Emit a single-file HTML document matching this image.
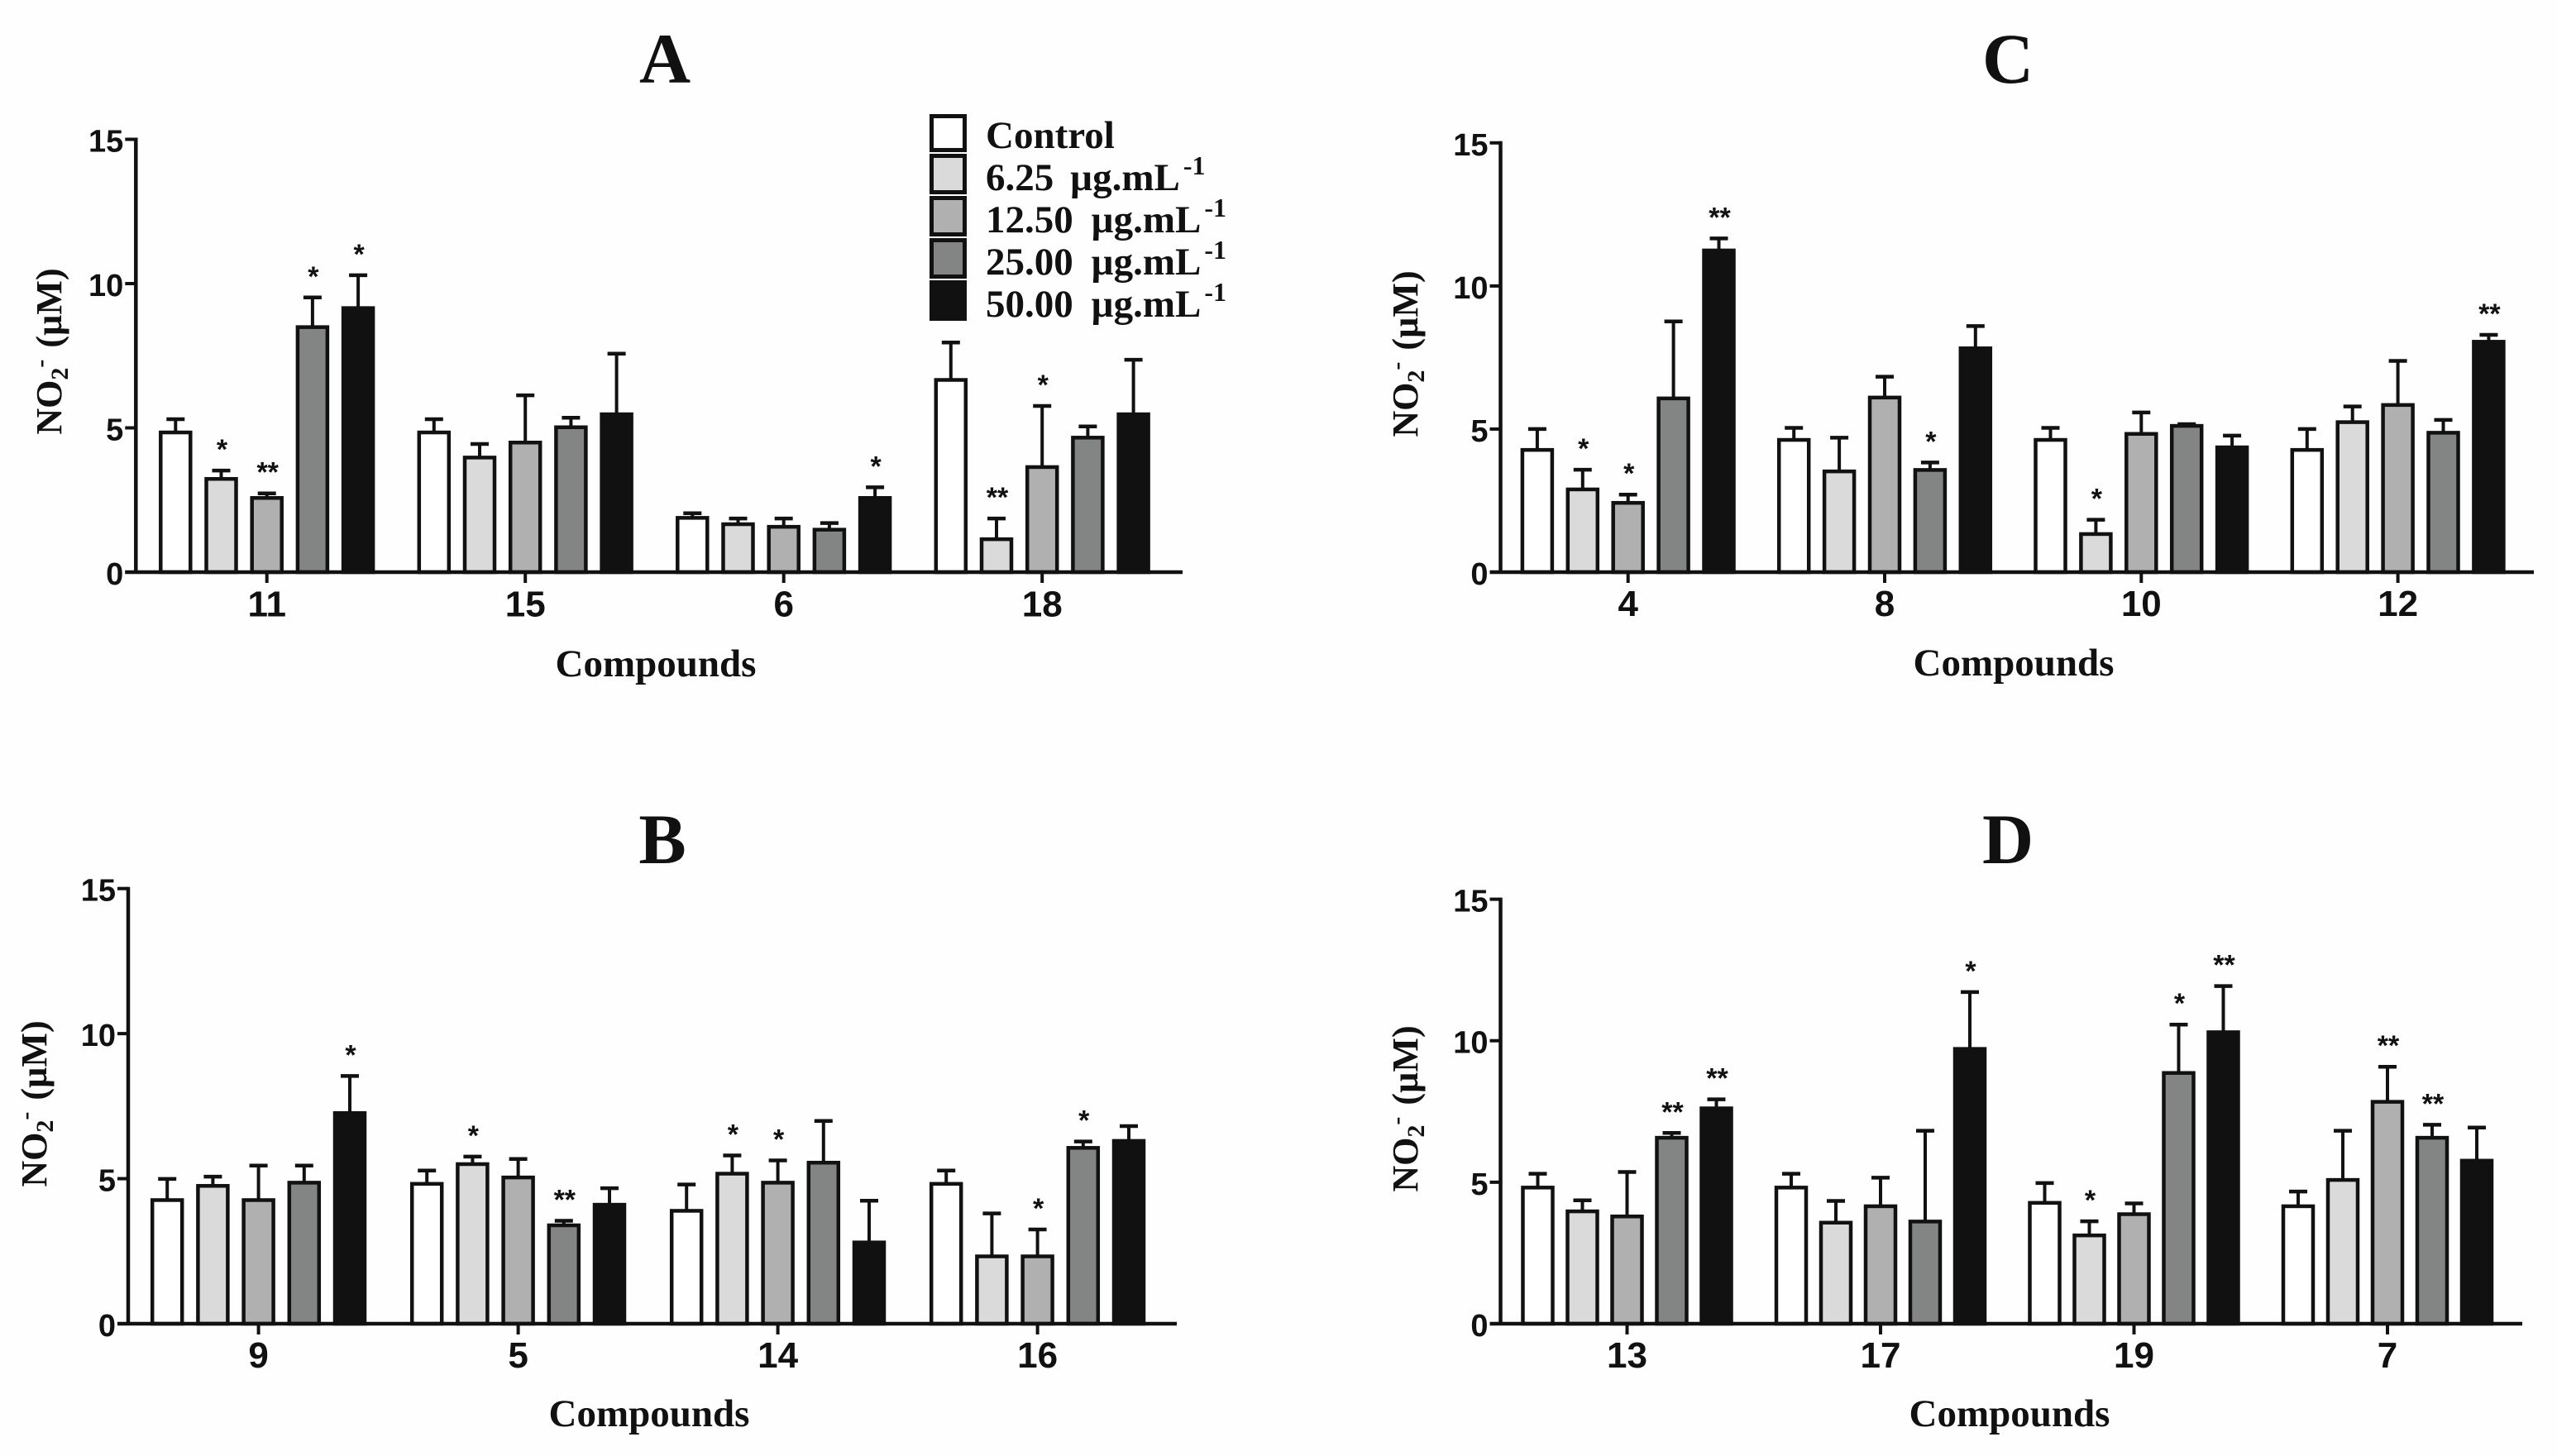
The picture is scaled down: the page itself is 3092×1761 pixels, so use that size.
<!DOCTYPE html>
<html lang="en">
<head>
<meta charset="utf-8">
<title>Nitrite production by compound and concentration</title>
<style>
html,body{margin:0;padding:0;background:#fefefe;}
svg{display:block;}
.title{font-family:"Liberation Serif",serif;font-weight:bold;font-size:86px;fill:#111;text-anchor:middle;}
.xtitle{font-family:"Liberation Serif",serif;font-weight:bold;font-size:47px;fill:#111;text-anchor:middle;}
.ytitle{font-family:"Liberation Serif",serif;font-weight:bold;font-size:44px;fill:#111;text-anchor:middle;}
.legend-text{font-family:"Liberation Serif",serif;font-weight:bold;font-size:47px;fill:#111;}
.legend-sup{font-size:32px;}
.tick-y{font-family:"Liberation Sans",sans-serif;font-weight:bold;font-size:38px;fill:#111;}
.tick-x{font-family:"Liberation Sans",sans-serif;font-weight:bold;font-size:44px;fill:#111;}
.star{font-family:"Liberation Sans",sans-serif;font-weight:bold;font-size:34px;fill:#111;text-anchor:middle;}
</style>
</head>
<body>
<svg id="figure" xmlns="http://www.w3.org/2000/svg" width="3092" height="1761" viewBox="0 0 3092 1761">
  <rect x="0" y="0" width="3092" height="1761" fill="#fefefe"/>

  <text class="title" x="804" y="100">A</text>
  <text class="title" x="801" y="1044">B</text>
  <text class="title" x="2428" y="100">C</text>
  <text class="title" x="2428" y="1044">D</text>

  <text class="xtitle" x="793" y="818">Compounds</text>
  <text class="xtitle" x="785" y="1725">Compounds</text>
  <text class="xtitle" x="2435" y="817">Compounds</text>
  <text class="xtitle" x="2430" y="1725">Compounds</text>

  <text class="ytitle" transform="translate(74,425) rotate(-90)">NO<tspan font-size="30" dy="8">2</tspan><tspan font-size="30" dy="-24">-</tspan><tspan dy="16" dx="14">(µM)</tspan></text>
  <text class="ytitle" transform="translate(56,1335) rotate(-90)">NO<tspan font-size="30" dy="8">2</tspan><tspan font-size="30" dy="-24">-</tspan><tspan dy="16" dx="14">(µM)</tspan></text>
  <text class="ytitle" transform="translate(1714,428) rotate(-90)">NO<tspan font-size="30" dy="8">2</tspan><tspan font-size="30" dy="-24">-</tspan><tspan dy="16" dx="14">(µM)</tspan></text>
  <text class="ytitle" transform="translate(1714,1341) rotate(-90)">NO<tspan font-size="30" dy="8">2</tspan><tspan font-size="30" dy="-24">-</tspan><tspan dy="16" dx="14">(µM)</tspan></text>

  <g id="panels"></g>

  <g>
    <g>
      <rect x="1126.5" y="140.5" width="40" height="41" fill="#ffffff" stroke="#111" stroke-width="5"/>
      <text class="legend-text" x="1192" y="179">Control</text>
    </g>
    <g>
      <rect x="1126.5" y="188.5" width="40" height="44" fill="#dadada" stroke="#111" stroke-width="5"/>
      <text class="legend-text" x="1192" y="230" style="word-spacing:8px">6.25 µg.mL<tspan class="legend-sup" dy="-19" dx="4">-1</tspan></text>
    </g>
    <g>
      <rect x="1126.5" y="239.5" width="40" height="44" fill="#b0b0b0" stroke="#111" stroke-width="5"/>
      <text class="legend-text" x="1192" y="281" style="word-spacing:10px">12.50 µg.mL<tspan class="legend-sup" dy="-19" dx="4">-1</tspan></text>
    </g>
    <g>
      <rect x="1126.5" y="290.5" width="40" height="44" fill="#838584" stroke="#111" stroke-width="5"/>
      <text class="legend-text" x="1192" y="332" style="word-spacing:10px">25.00 µg.mL<tspan class="legend-sup" dy="-19" dx="4">-1</tspan></text>
    </g>
    <g>
      <rect x="1124" y="339" width="45" height="49" fill="#111"/>
      <text class="legend-text" x="1192" y="383" style="word-spacing:10px">50.00 µg.mL<tspan class="legend-sup" dy="-19" dx="4">-1</tspan></text>
    </g>
  </g>
</svg>

<script>
// Shared value-axis ticks
const yTickValues = [0, 5, 10, 15];
const seriesNames = ['control', '6-25', '12-50', '25-00', '50-00'];

// Panel A
const panelACategories = ['11', '15', '6', '18'];
const panelAMeans = [
  [4.87, 3.26, 2.60, 8.52, 9.18],
  [4.87, 4.00, 4.52, 5.05, 5.50],
  [1.91, 1.69, 1.60, 1.50, 2.60],
  [6.69, 1.17, 3.67, 4.69, 5.50]
];
const panelAUppers = [
  [5.30, 3.52, 2.73, 9.52, 10.29],
  [5.30, 4.44, 6.13, 5.35, 7.57],
  [2.04, 1.86, 1.86, 1.70, 2.94],
  [7.96, 1.86, 5.76, 5.05, 7.36]
];
const panelAStars = [
  ['', '*', '**', '*', '*'],
  ['', '', '', '', ''],
  ['', '', '', '', '*'],
  ['', '**', '*', '', '']
];

// Panel B
const panelBCategories = ['9', '5', '14', '16'];
const panelBMeans = [
  [4.29, 4.78, 4.29, 4.89, 7.29],
  [4.85, 5.53, 5.07, 3.42, 4.13],
  [3.92, 5.20, 4.89, 5.58, 2.83],
  [4.85, 2.35, 2.35, 6.09, 6.33]
];
const panelBUppers = [
  [4.99, 5.07, 5.45, 5.45, 8.54],
  [5.28, 5.76, 5.68, 3.55, 4.67],
  [4.80, 5.80, 5.63, 6.99, 4.24],
  [5.28, 3.80, 3.25, 6.28, 6.81]
];
const panelBStars = [
  ['', '', '', '', '*'],
  ['', '*', '', '**', ''],
  ['', '*', '*', '', ''],
  ['', '', '*', '*', '']
];

// Panel C
const panelCCategories = ['4', '8', '10', '12'];
const panelCMeans = [
  [4.30, 2.92, 2.45, 6.10, 11.27],
  [4.65, 3.55, 6.13, 3.60, 7.85],
  [4.65, 1.36, 4.86, 5.14, 4.39],
  [4.30, 5.27, 5.87, 4.90, 8.08]
];
const panelCUppers = [
  [5.00, 3.58, 2.71, 8.76, 11.66],
  [5.04, 4.70, 6.83, 3.83, 8.60],
  [5.04, 1.83, 5.58, 5.17, 4.77],
  [5.00, 5.79, 7.38, 5.32, 8.29]
];
const panelCStars = [
  ['', '*', '*', '', '**'],
  ['', '', '', '*', ''],
  ['', '*', '', '', ''],
  ['', '', '', '', '**']
];

// Panel D
const panelDCategories = ['13', '17', '19', '7'];
const panelDMeans = [
  [4.84, 4.00, 3.82, 6.60, 7.64],
  [4.84, 3.60, 4.18, 3.64, 9.74],
  [4.30, 3.15, 3.90, 8.89, 10.33],
  [4.18, 5.11, 7.87, 6.60, 5.79]
];
const panelDUppers = [
  [5.30, 4.36, 5.36, 6.74, 7.93],
  [5.30, 4.34, 5.16, 6.82, 11.72],
  [4.97, 3.62, 4.25, 10.57, 11.93],
  [4.67, 6.82, 9.08, 7.03, 6.93]
];
const panelDStars = [
  ['', '', '', '**', '**'],
  ['', '', '', '', '*'],
  ['', '*', '', '*', '**'],
  ['', '', '**', '**', '']
];

const SVG_NS = 'http://www.w3.org/2000/svg';
const barFills = ['#ffffff', '#dadada', '#b0b0b0', '#838584', '#111111'];
const INK = '#111111';
const root = document.getElementById('panels');

function make(tag, attrs, parent) {
  const el = document.createElementNS(SVG_NS, tag);
  Object.keys(attrs).forEach(function (k) { el.setAttribute(k, attrs[k]); });
  parent.appendChild(el);
  return el;
}

function drawPanel(id, cfg, categories, means, uppers, stars) {
  const yScale = function (v) { return cfg.y0 - (v / 15) * (cfg.y0 - cfg.y15); };
  const groupX = function (g) { return cfg.tick0 + g * cfg.groupStep; };
  const barX = function (g, s) { return groupX(g) + (s - 2) * cfg.barStep; };

  const panel = make('g', {}, root);
  
  

  means.forEach(function (row, g) {
    row.forEach(function (value, s) {
      const cx = barX(g, s);
      const top = yScale(uppers[g][s]);

      const stem = make('line', { x1: cx, x2: cx, y1: yScale(value), y2: top, stroke: INK, 'stroke-width': 4 }, panel);
      
      

      const cap = make('line', { x1: cx - 11, x2: cx + 11, y1: top, y2: top, stroke: INK, 'stroke-width': 4.5 }, panel);
      
      

      const bar = make('rect', {
        x: cx - 18, width: 36, y: yScale(value) + 1,
        height: cfg.y0 - yScale(value) - 1,
        fill: barFills[s], stroke: INK, 'stroke-width': 4.5
      }, panel);
      
      

      if (stars[g][s]) {
        const star = make('text', { class: 'star', x: cx + 1, y: top - 14 }, panel);
        star.textContent = stars[g][s];
        
        
      }
    });
  });

  const yAxis = make('line', { x1: cfg.axisX, x2: cfg.axisX, y1: yScale(15) - 2, y2: yScale(0) + 2, stroke: INK, 'stroke-width': 4.5 }, panel);
  
  

  const xAxis = make('line', { x1: cfg.axisX - 13, x2: cfg.axisEnd, y1: yScale(0), y2: yScale(0), stroke: INK, 'stroke-width': 4.5 }, panel);
  
  

  yTickValues.forEach(function (t) {
    const mark = make('line', { x1: cfg.axisX - 13, x2: cfg.axisX, y1: yScale(t), y2: yScale(t), stroke: INK, 'stroke-width': 4 }, panel);
    
    

    const label = make('text', { class: 'tick-y', x: cfg.axisX - 15, y: yScale(t) + 15, 'text-anchor': 'end' }, panel);
    label.textContent = t;
    
    
  });

  categories.forEach(function (c, g) {
    const mark = make('line', { x1: groupX(g), x2: groupX(g), y1: yScale(0), y2: yScale(0) + 13, stroke: INK, 'stroke-width': 4 }, panel);
    
    

    const label = make('text', { class: 'tick-x', x: groupX(g), y: cfg.xLabelY, 'text-anchor': 'middle' }, panel);
    label.textContent = c;
    
    
  });
}

drawPanel('a', { axisX: 164.3, axisEnd: 1430, y0: 692, y15: 168.5, tick0: 322.7, groupStep: 312.5, barStep: 55.2, xLabelY: 745.5 },
  panelACategories, panelAMeans, panelAUppers, panelAStars);
drawPanel('b', { axisX: 155, axisEnd: 1423, y0: 1601, y15: 1074.7, tick0: 312.6, groupStep: 314, barStep: 55.2, xLabelY: 1654 },
  panelBCategories, panelBMeans, panelBUppers, panelBStars);
drawPanel('c', { axisX: 1814.5, axisEnd: 3064, y0: 692, y15: 172.8, tick0: 1968.7, groupStep: 310.3, barStep: 54.9, xLabelY: 745 },
  panelCCategories, panelCMeans, panelCUppers, panelCStars);
drawPanel('d', { axisX: 1814.5, axisEnd: 3050, y0: 1601, y15: 1087.6, tick0: 1967.5, groupStep: 306.5, barStep: 54, xLabelY: 1654 },
  panelDCategories, panelDMeans, panelDUppers, panelDStars);
</script>
</body>
</html>
